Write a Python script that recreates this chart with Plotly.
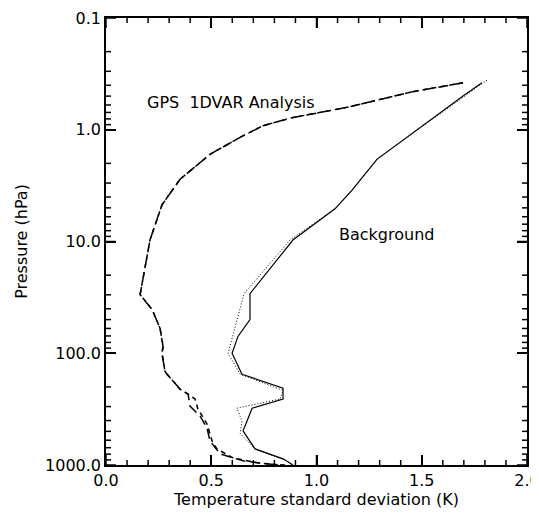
import plotly.graph_objects as go

# Background (solid)
bg_x = [1.786, 1.696, 1.287, 1.169, 1.088, 0.888, 0.684, 0.684, 0.627, 0.599, 0.646, 0.841, 0.841, 0.694, 0.670, 0.651, 0.708, 0.841, 0.888]
bg_p = [0.38, 0.50, 1.84, 3.47, 5.1, 9.7, 29.3, 49.9, 70.7, 100, 154, 205, 257, 310, 404, 495, 718, 881, 1000]

# Background (dotted)
bgd_x = [1.81, 1.705, 1.292, 1.169, 1.088, 0.874, 0.656, 0.580, 0.637, 0.841, 0.827, 0.622, 0.646, 0.637, 0.708, 0.860, 0.888]
bgd_p = [0.36, 0.50, 1.8, 3.47, 5.1, 9.7, 29.3, 100, 154, 215, 257, 310, 404, 520, 718, 920, 1000]

# GPS 1DVAR analysis (long dash)
an_x = [1.696, 1.458, 1.145, 0.884, 0.746, 0.637, 0.494, 0.352, 0.266, 0.209, 0.162, 0.219, 0.257, 0.271, 0.266, 0.280, 0.290, 0.352, 0.390, 0.399, 0.447, 0.480, 0.494, 0.542, 0.651, 0.793, 0.85]
an_p = [0.38, 0.456, 0.63, 0.78, 0.92, 1.17, 1.66, 2.77, 4.7, 9.7, 29.9, 40.6, 60, 87, 100, 145, 154, 210, 232, 297, 365, 467, 609, 795, 918, 990, 1000]

# GPS 1DVAR analysis (short dash)
an2_x = [1.696, 1.458, 1.145, 0.884, 0.746, 0.637, 0.494, 0.352, 0.266, 0.209, 0.162, 0.219, 0.257, 0.271, 0.266, 0.280, 0.290, 0.352, 0.390, 0.423, 0.437, 0.480, 0.504, 0.527, 0.603, 0.717, 0.827]
an2_p = [0.38, 0.456, 0.63, 0.78, 0.92, 1.17, 1.66, 2.77, 4.7, 9.7, 29.9, 40.6, 60, 87, 100, 145, 154, 210, 232, 257, 316, 430, 609, 718, 863, 955, 1000]

x_tickvals = [0.0, 0.5, 1.0, 1.5, 2.0]
x_ticktext = ["0.0", "0.5", "1.0", "1.5", "2.0"]
y_tickvals = [0.1, 1, 10, 100, 1000]
y_ticktext = ["0.1", "1.0", "10.0", "100.0", "1000.0"]

# minor tick positions
x_minor = [i / 10 for i in range(21) if i % 5 != 0]
y_minor = [d * k for d in (0.1, 1, 10, 100) for k in range(2, 10)]

FONT = "DejaVu Sans, sans-serif"
W, H = 531, 511
ML, MR, MT, MB = 98, 12, 10, 54
PW, PH = W - ML - MR, H - MT - MB
MAJOR_LEN = 10
MINOR_LEN = 5

fig = go.Figure()
fig.add_trace(go.Scatter(x=an_x, y=an_p, mode="lines",
                         line=dict(color="black", width=1.5, dash="10px,5px")))
fig.add_trace(go.Scatter(x=an2_x, y=an2_p, mode="lines",
                         line=dict(color="black", width=1.5, dash="5px,4px")))
fig.add_trace(go.Scatter(x=bgd_x, y=bgd_p, mode="lines",
                         line=dict(color="black", width=1, dash="1px,2px")))
fig.add_trace(go.Scatter(x=bg_x, y=bg_p, mode="lines",
                         line=dict(color="black", width=1.2)))

# Inside tick marks on all four sides (positioned through the axes)
tick_line = dict(color="black", width=1.5)
shapes = []
for vals, ln in ((x_tickvals, MAJOR_LEN), (x_minor, MINOR_LEN)):
    f = ln / PH
    for v in vals:
        for a, b in ((0, f), (1, 1 - f)):
            shapes.append(dict(type="line", xref="x", yref="y domain",
                               x0=v, x1=v, y0=a, y1=b, line=tick_line, layer="above"))
for vals, ln in ((y_tickvals, MAJOR_LEN), (y_minor, MINOR_LEN)):
    f = ln / PW
    for v in vals:
        for a, b in ((0, f), (1, 1 - f)):
            shapes.append(dict(type="line", xref="x domain", yref="y",
                               y0=v, y1=v, x0=a, x1=b, line=tick_line, layer="above"))

fig.update_layout(
    width=W, height=H,
    margin=dict(l=ML, r=MR, t=MT, b=MB),
    paper_bgcolor="white", plot_bgcolor="white",
    showlegend=False,
    font=dict(family=FONT, size=16, color="black"),
    xaxis=dict(range=[0, 2], tickmode="array", tickvals=x_tickvals, ticktext=x_ticktext,
               ticks="inside", ticklen=MAJOR_LEN, tickwidth=1.5, tickcolor="black",
               showline=True, linecolor="black", linewidth=1.5, mirror="allticks",
               showgrid=False, zeroline=False, automargin=False,
               ticklabeloverflow="allow", tickfont=dict(size=16),
               title=dict(text="Temperature standard deviation (K)", standoff=2,
                          font=dict(size=16))),
    yaxis=dict(type="log", range=[3, -1], tickmode="array", tickvals=y_tickvals,
               ticktext=y_ticktext,
               ticks="inside", ticklen=MAJOR_LEN, tickwidth=1.5, tickcolor="black",
               showline=True, linecolor="black", linewidth=1.5, mirror="allticks",
               showgrid=False, zeroline=False, automargin=False,
               ticklabeloverflow="allow", tickfont=dict(size=16),
               title=dict(text="Pressure (hPa)", standoff=13, font=dict(size=16))),
    shapes=shapes,
    annotations=[
        dict(x=0.185, y=-0.243, xref="x", yref="y", text="GPS  1DVAR Analysis",
             showarrow=False, xanchor="left", yanchor="middle", font=dict(size=16)),
        dict(x=1.097, y=0.941, xref="x", yref="y", text="Background",
             showarrow=False, xanchor="left", yanchor="middle", font=dict(size=16)),
    ],
)

fig.write_html("out.html")
